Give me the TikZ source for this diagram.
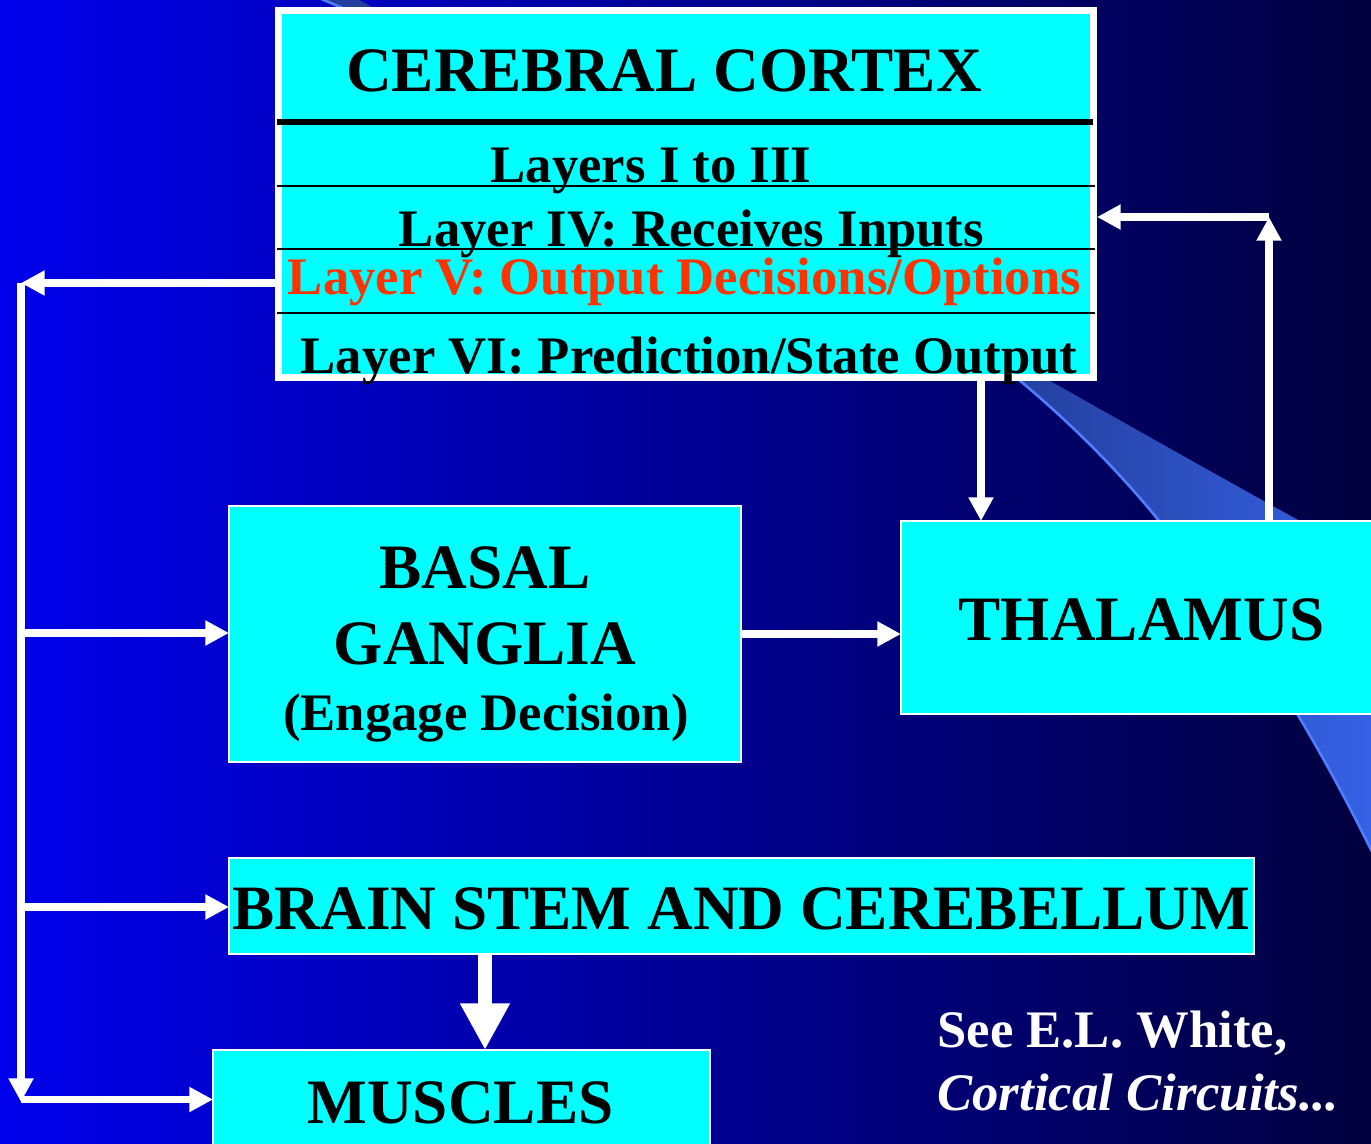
\documentclass[tikz,border=0pt]{standalone}
\usepackage{fontspec}
\setmainfont{Liberation Serif}
\usetikzlibrary{arrows.meta}
\definecolor{bgL}{RGB}{0,0,236}
\definecolor{bgR}{RGB}{0,0,62}
\definecolor{boxcyan}{RGB}{0,255,255}
\definecolor{swL}{RGB}{35,62,155}
\definecolor{swR}{RGB}{55,100,235}
\definecolor{swEdge}{RGB}{80,125,255}
\definecolor{redtxt}{RGB}{255,51,0}
\begin{document}
\begin{tikzpicture}[x=0.02cm,y=-0.02cm,
  box/.style={rectangle, fill=boxcyan, draw=white, line width=1.2pt, inner sep=0pt, outer sep=0pt},
  arr/.style={draw=white, line width=4.2pt, -{Triangle[length=13.5pt,width=13.5pt]}},
  bigarr/.style={draw=white, line width=8.5pt, -{Triangle[length=26.6pt,width=26.6pt]}},
  ttl/.style={font=\bfseries\fontsize{36}{40}\selectfont, anchor=base, inner sep=0pt},
  lyr/.style={font=\bfseries\fontsize{30}{34}\selectfont, anchor=base, inner sep=0pt}]
\useasboundingbox (0,0) rectangle (1371,1143);
\clip (0,0) rectangle (1371,1143);
% background
\shade[left color=bgL, right color=bgR] (0,0) rectangle (1371,1143);
% swoosh
\begin{scope}
  \clip (312,-5) .. controls (700,160) and (980,300) .. (1160,522)
        .. controls (1260,640) and (1330,760) .. (1400,910)
        -- (1400,575) .. controls (1200,470) and (900,290) .. (350,-5) -- cycle;
  \fill[swL] (300,-10) rectangle (1000,1200);
  \shade[left color=swL, right color=swR] (1000,-10) rectangle (1400,1200);
\end{scope}
\draw[swEdge, line width=1.5pt] (312,-5) .. controls (700,160) and (980,300) .. (1160,522)
        .. controls (1260,640) and (1330,760) .. (1400,910);
% boxes
\node[box, line width=4pt, outer sep=2pt, minimum width=16.3cm, minimum height=7.34cm] (cortex) at (686,194) {};
\node[box, minimum width=10.24cm, minimum height=5.12cm] (basal) at (485,634) {};
\node[box, minimum width=9.68cm, minimum height=3.86cm] (thalamus) at (1143,617.5) {};
\node[box, minimum width=20.5cm, minimum height=1.92cm] (stem) at (741.5,906) {};
\node[box, minimum width=9.94cm, minimum height=2.2cm] (muscles) at (461.5,1105) {};
% cortex separators
\draw[black, line width=3.4pt] (277,122) -- (1093,122);
\draw[black, line width=0.9pt] (277,186) -- (1095,186);
\draw[black, line width=0.9pt] (277,249) -- (1095,249);
\draw[black, line width=0.9pt] (277,313) -- (1095,313);
% texts
\node[ttl] (tcc) at (664,91) {CEREBRAL CORTEX};
\node[lyr] (l13) at (651,182) {Layers I to III};
\node[lyr] (l4) at (691.5,246) {Layer IV: Receives Inputs};
\node[lyr, text=redtxt] (l5) at (684.5,294) {Layer V: Output Decisions/Options};
\node[lyr] (l6) at (689,373) {Layer VI: Prediction/State Output};
\node[ttl] (tb1) at (485,588) {BASAL};
\node[ttl] (tb2) at (485,664) {GANGLIA};
\node[lyr] (tb3) at (486,730) {(Engage Decision)};
\node[ttl] (tth) at (1141.5,640) {THALAMUS};
\node[ttl] (tst) at (741.5,929) {BRAIN STEM AND CEREBELLUM};
\node[ttl] (tmu) at (460.5,1123) {MUSCLES};
\node[lyr, text=white, anchor=base west] (ref1) at (937,1047) {See E.L. White,};
\node[text=white, anchor=base west, inner sep=0pt, font=\bfseries\itshape\fontsize{30}{34}\selectfont] (ref2) at (937,1110) {Cortical Circuits...};
% connector coordinates
\coordinate (lt) at (21,283);
\coordinate (lb) at (21,1102);
\coordinate (b1) at (21,633);
\coordinate (b2) at (21,907);
\coordinate (b3) at (21,1099.5);
\coordinate (c1) at (981,381);
\coordinate (c2) at (1269,217);
\coordinate (c3) at (485,954);
% connectors
\draw[arr] (cortex.west |- lt) -- (lt);
\draw[arr] (lt) -- (lb);
\draw[arr] (b1) -- (b1 -| basal.west);
\draw[arr] (b2) -- (b2 -| stem.west);
\draw[arr] (b3) -- (b3 -| muscles.west);
\draw[arr] (basal.east) -- (basal.east -| thalamus.west);
\draw[arr] (c1 |- cortex.south) -- (c1 |- thalamus.north);
\draw[arr] (c2 |- thalamus.north) -- (c2);
\draw[arr] (c2) -- (c2 -| cortex.east);
\draw[bigarr] (c3 |- stem.south) -- (c3 |- muscles.north);
\end{tikzpicture}
\end{document}
